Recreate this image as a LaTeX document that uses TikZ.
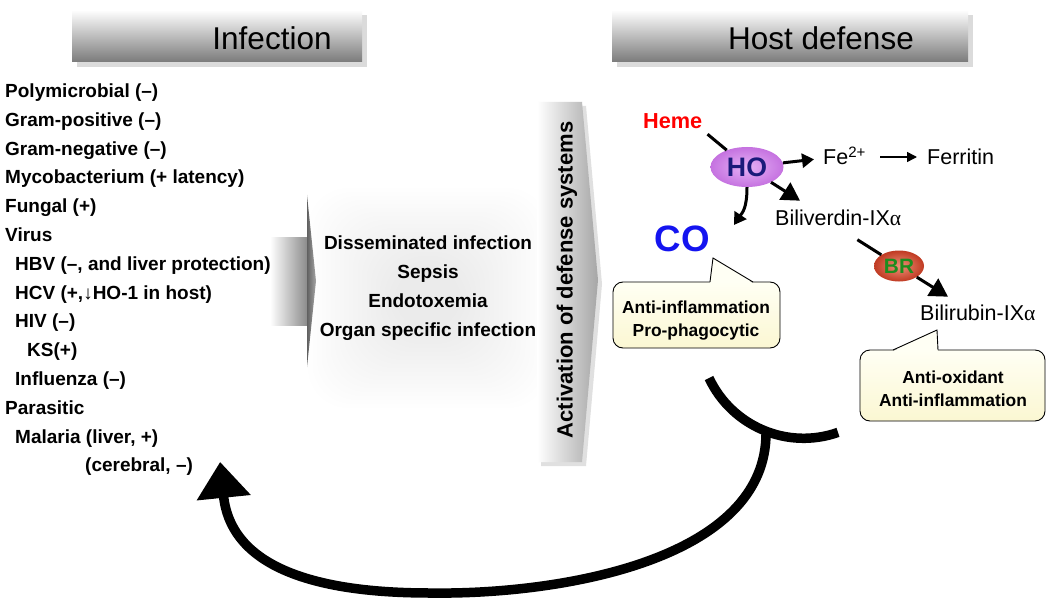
\documentclass[tikz,border=0pt]{standalone}
\usepackage{fontspec}
\setmainfont{Liberation Sans}
\newfontfamily\greekserif{Liberation Serif}
\usetikzlibrary{arrows.meta,shapes.geometric,calc}
\definecolor{hoin}{HTML}{E6B2F6}
\definecolor{hoout}{HTML}{C572E0}
\definecolor{hotext}{HTML}{1A1A7A}
\definecolor{brin}{HTML}{EE927A}
\definecolor{brout}{HTML}{C03A22}
\definecolor{brtext}{HTML}{1E8C1E}
\definecolor{coblue}{HTML}{1414F0}
\definecolor{calltop}{HTML}{FFFFF4}
\definecolor{callbot}{HTML}{FBF7D2}
\begin{document}
\begin{tikzpicture}[x=1pt,y=-1pt,
  lst/.style={anchor=base west, inner sep=0pt, font=\fontsize{19}{23}\selectfont\bfseries},
  hdr/.style={font=\fontsize{31.5}{36}\selectfont, inner sep=0pt},
  chem/.style={anchor=base west, inner sep=0pt, font=\fontsize{21.5}{25}\selectfont},
  bartop/.style={top color=white, middle color=black!16, bottom color=black!52},
  barshadow/.style={fill=black!14},
  calloutbox/.style={draw=black, line width=0.9pt, top color=calltop, bottom color=callbot},
  callouttext/.style={align=center, inner sep=0pt, font=\fontsize{17.4}{23}\selectfont\bfseries},
  rxn/.style={line width=3pt},
  rxnarrow/.style={line width=3pt, -{Triangle[length=12pt,width=14pt]}},
  bigrxn/.style={line width=3pt, -{Triangle[length=18pt,width=20pt]}},
  thinarrow/.style={line width=1.5pt, -{Triangle[length=10pt,width=10pt]}},
  feedback/.style={line width=9.5pt}
]
\useasboundingbox (0,0) rectangle (1050,607);
\fill[white] (0,0) rectangle (1050,607);

% header bars
\fill[barshadow] (77,15) rectangle (367,67);
\shade[bartop] (72,10) rectangle (362,62);
\node[hdr] (hinf) at (272,38.5) {Infection};
\fill[barshadow] (617,15) rectangle (973,67);
\shade[bartop] (612,10) rectangle (968,62);
\node[hdr] (hhost) at (821,38.5) {Host defense};

% infection list
\node[lst] (l1) at (5,97.5) {Polymicrobial (–)};
\node[lst] (l2) at (5,126.3) {Gram-positive (–)};
\node[lst] (l3) at (5,155.1) {Gram-negative (–)};
\node[lst] (l4) at (5,183.9) {Mycobacterium (+ latency)};
\node[lst] (l5) at (5,212.7) {Fungal (+)};
\node[lst] (l6) at (5,241.5) {Virus};
\node[lst] (l7) at (15,270.3) {HBV (–, and liver protection)};
\node[lst] (l8) at (15,299.1) {HCV (+,↓HO-1 in host)};
\node[lst] (l9) at (15,327.9) {HIV (–)};
\node[lst] (l10) at (27,356.7) {KS(+)};
\node[lst] (l11) at (15,385.5) {Influenza (–)};
\node[lst] (l12) at (5,414.3) {Parasitic};
\node[lst] (l13) at (15,443.1) {Malaria (liver, +)};
\node[lst] (l14) at (85,471.9) {(cerebral, –)};

% soft haze behind middle text
\foreach \k in {0,...,19} {
  \fill[black, opacity=0.0055, rounded corners=40pt] (308+4.5*\k, 188+4*\k) rectangle (548-4.5*\k, 408-4*\k);
}

% left chevron
\shade[left color=white, right color=black!45] (270,237) rectangle (307,325);
\shade[left color=black!62, right color=black!35] (307,195) -- (316,281) -- (307,367) -- cycle;

\node[font=\fontsize{19}{29}\selectfont\bfseries, align=center, inner sep=0pt] (mid) at (428,288.6)
  {Disseminated infection\\Sepsis\\Endotoxemia\\Organ specific infection};

% activation arrow
\fill[black!12] (541,106) -- (586,106) -- (602,284) -- (586,466) -- (541,466) -- cycle;
\shade[left color=white, right color=black!35] (537,102) -- (582,102) -- (598,280) -- (582,462) -- (537,462) -- cycle;
\node[rotate=90, font=\fontsize{22}{26}\selectfont\bfseries, inner sep=0pt] (act) at (567,280) {Activation of defense systems};

% host defense chemistry
\node[chem, text=red, font=\fontsize{21.7}{25}\selectfont\bfseries] (heme) at (643,128.8) {Heme};
\node[ellipse, minimum width=73pt, minimum height=40pt, inner sep=0pt, inner color=hoin, outer color=hoout,
      text=hotext, font=\fontsize{26.7}{30}\selectfont\bfseries] (ho) at (747,167) {HO};
\node[chem] (fe) at (823,164.7) {Fe\textsuperscript{2+}};
\node[chem] (ferr) at (927,164.7) {Ferritin};
\node[chem] (biliv) at (775,225.7) {Biliverdin-IX{\greekserif α}};
\node[chem, text=coblue, font=\fontsize{36.7}{40}\selectfont\bfseries] (co) at (654.5,251) {CO};
\node[ellipse, minimum width=50pt, minimum height=31pt, inner sep=0pt, inner color=brin, outer color=brout,
      text=brtext, font=\fontsize{20.8}{24}\selectfont\bfseries] (br) at (899,266) {BR};
\node[chem] (bilir) at (920,320.7) {Bilirubin-IX{\greekserif α}};

\draw[rxn] ($(heme.south east)+(5,5)$) -- (ho);
\draw[rxnarrow, shorten >=9pt] (ho) -- (fe);
\draw[thinarrow] ($(fe.base east)+(14,-7.7)$) -- ($(ferr.base west)+(-10,-7.7)$);
\draw[bigrxn] (ho) -- ($(biliv.base west)+(25,-25)$);
\draw[rxnarrow] (ho.south) .. controls +(0,22) and +(8,-12) .. ($(co.base east)+(24,-26)$);
\draw[rxn] ($(biliv.base east)+(-44,14)$) -- (br);
\draw[bigrxn] (br) -- ($(bilir.base west)+(28,-24)$);

% callout 1 (CO)
\draw[calloutbox, rounded corners=10pt] (613,282) rectangle (780,348);
\fill[calltop] (710,283.2) -- (713,258) -- (753,283.2) -- cycle;
\draw[line width=0.9pt] (710,282) -- (713,258) -- (753,282);
\node[callouttext] (cot) at (696,320.2) {Anti-inflammation\\Pro-phagocytic};

% callout 2 (bilirubin)
\draw[calloutbox, rounded corners=10pt] (860,350) rectangle (1045,421);
\fill[calltop] (893,351.2) -- (937,330) -- (938,351.2) -- cycle;
\draw[line width=0.9pt] (893,350) -- (937,330) -- (938,350);
\node[callouttext] (brt) at (953,388.4) {Anti-oxidant\\Anti-inflammation};

% inhibitory feedback
\coordinate (arcS) at (709,378);
\coordinate (arcE) at (838,432.4);
\coordinate (arcJ) at (766,431.3);
\draw[feedback] (arcS) .. controls (731.8,426.4) and (787.4,450.2) .. (arcE);
\draw[feedback, -{Triangle[length=36pt,width=52pt]}] (arcJ) .. controls (768,560) and (560,595) .. (430,593)
   .. controls (300,593) and (230,560) .. ($(l14.base east)+(27,-10)$);
\end{tikzpicture}
\end{document}
